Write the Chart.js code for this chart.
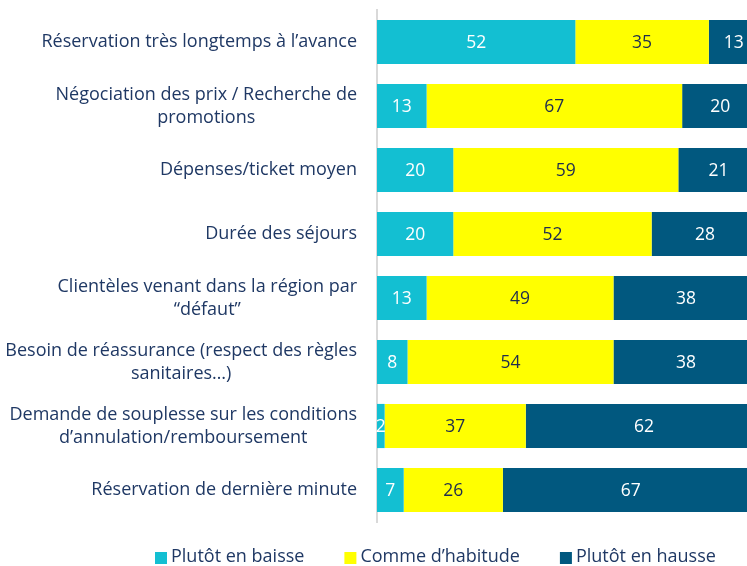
<!DOCTYPE html>
<html>
<head>
<meta charset="utf-8">
<script src="https://cdn.jsdelivr.net/npm/chart.js@4/dist/chart.umd.min.js"></script>
<style>
  html, body { margin: 0; padding: 0; background: #fff; }
  #wrap { width: 747px; height: 566px; }
</style>
</head>
<body>
<div id="wrap"><canvas id="chart"></canvas></div>
<script>
// categories (one array of lines per bar) and the three series, in %
const categories = [
  ['Réservation très longtemps à l’avance'],
  ['Négociation des prix / Recherche de', 'promotions'],
  ['Dépenses/ticket moyen'],
  ['Durée des séjours'],
  ['Clientèles venant dans la région par', '“défaut”'],
  ['Besoin de réassurance (respect des règles', 'sanitaires…)'],
  ['Demande de souplesse sur les conditions', 'd’annulation/remboursement'],
  ['Réservation de dernière minute']
];
const seriesNames = ['Plutôt en baisse', 'Comme d’habitude', 'Plutôt en hausse'];
const enBaisse = [52, 13, 20, 20, 13, 8, 2, 7];
const commeHabitude = [35, 67, 59, 52, 49, 54, 37, 26];
const enHausse = [13, 20, 21, 28, 38, 38, 62, 67];

const colors = ['#13BFD2', '#FFFF00', '#01587F'];
const valueColors = ['#FFFFFF', '#1F2D4F', '#FFFFFF'];
const textColor = '#1F3864';
const FONT = '"Open Sans", sans-serif';

// value labels centred in each segment
const valueLabels = {
  id: 'valueLabels',
  afterDatasetsDraw(chart) {
    const ctx = chart.ctx;
    ctx.save();
    ctx.font = '17.5px ' + FONT;
    ctx.textAlign = 'center';
    ctx.textBaseline = 'middle';
    chart.data.datasets.forEach((ds, di) => {
      const meta = chart.getDatasetMeta(di);
      ctx.fillStyle = valueColors[di];
      meta.data.forEach((bar, i) => {
        const cx = (bar.x + bar.base) / 2;
        ctx.fillText(String(ds.data[i]), cx, bar.y + 1);
      });
    });
    ctx.restore();
  }
};

// category labels: block right aligned, lines centred inside the block
const categoryLabels = {
  id: 'categoryLabels',
  afterDraw(chart) {
    const ctx = chart.ctx;
    const y = chart.scales.y;
    const right = chart.chartArea.left - 20;
    ctx.save();
    ctx.font = '18px ' + FONT;
    ctx.fillStyle = textColor;
    ctx.textAlign = 'center';
    ctx.textBaseline = 'middle';
    const lh = 23;
    categories.forEach((lines, i) => {
      const cy = y.getPixelForValue(i);
      const w = Math.max(...lines.map(l => ctx.measureText(l).width));
      const cx = right - w / 2;
      const top = cy - (lines.length - 1) * lh / 2;
      lines.forEach((l, k) => ctx.fillText(l, cx, top + k * lh));
    });
    ctx.restore();
  }
};

// legend drawn under the plot
const bottomLegend = {
  id: 'bottomLegend',
  afterDraw(chart) {
    const ctx = chart.ctx;
    ctx.save();
    ctx.font = '18px ' + FONT;
    ctx.textBaseline = 'middle';
    let x = 155;
    const cy = 557;
    chart.data.datasets.forEach((ds) => {
      ctx.fillStyle = ds.backgroundColor;
      ctx.fillRect(x, cy - 5, 12, 12);
      ctx.fillStyle = textColor;
      ctx.textAlign = 'left';
      ctx.fillText(ds.label, x + 16, cy);
      x += 16 + ctx.measureText(ds.label).width + 40;
    });
    ctx.restore();
  }
};

new Chart(document.getElementById('chart'), {
  type: 'bar',
  data: {
    labels: categories,
    datasets: [
      { label: seriesNames[0], data: enBaisse, backgroundColor: colors[0] },
      { label: seriesNames[1], data: commeHabitude, backgroundColor: colors[1] },
      { label: seriesNames[2], data: enHausse, backgroundColor: colors[2] }
    ]
  },
  options: {
    indexAxis: 'y',
    responsive: true,
    maintainAspectRatio: false,
    animation: false,
    layout: { padding: { top: 10, bottom: 44, left: 0, right: 0 } },
    datasets: { bar: { barPercentage: 0.69, categoryPercentage: 1, borderWidth: 0 } },
    scales: {
      x: {
        stacked: true,
        min: 0,
        max: 97,
        display: false
      },
      y: {
        stacked: true,
        grid: { display: false },
        border: { display: true, color: '#D9D9D9', width: 2 },
        ticks: { display: false },
        afterFit(scale) { scale.width = 377; }
      }
    },
    plugins: {
      legend: { display: false },
      tooltip: { enabled: false }
    }
  },
  plugins: [valueLabels, categoryLabels, bottomLegend]
});
</script>
</body>
</html>
